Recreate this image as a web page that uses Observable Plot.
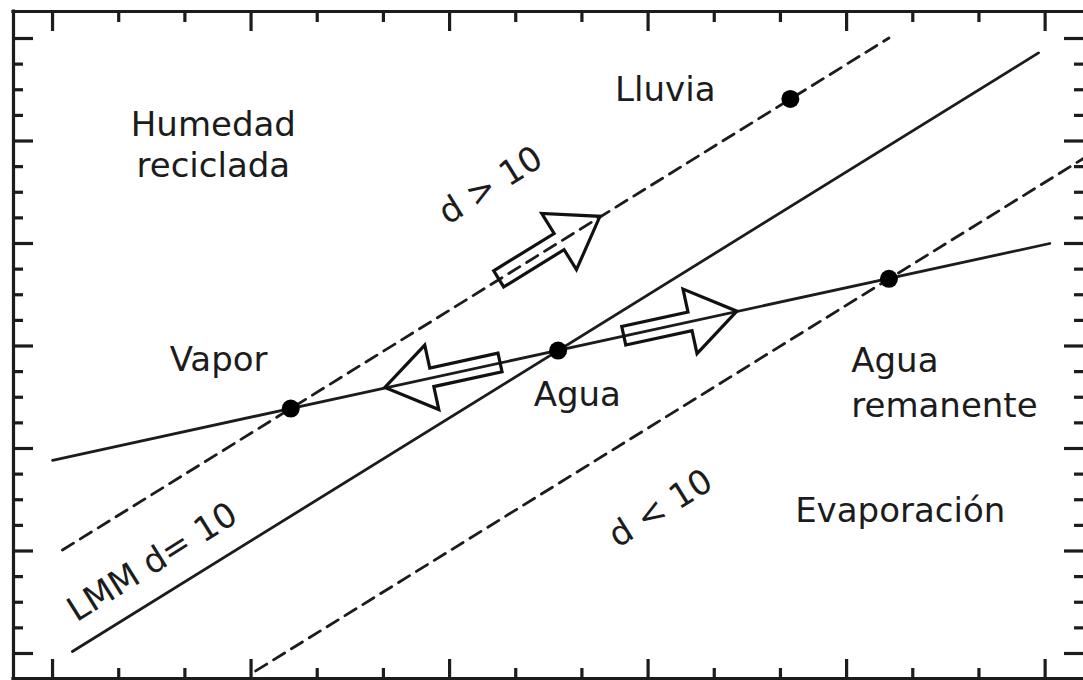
<!DOCTYPE html>
<html>
<head>
<meta charset="utf-8">
<script src="https://cdn.jsdelivr.net/npm/d3@7"></script>
<script src="https://cdn.jsdelivr.net/npm/@observablehq/plot@0.6"></script>
<style>
  html, body { margin: 0; padding: 0; background: #fff; overflow: hidden; }
  #chart svg { display: block; }
</style>
</head>
<body>
<div id="chart"></div>
<script>
// δ18O (x) vs δ2H (y) schematic: meteoric water line, deuterium-excess lines and evaporation line

// Axis extent and tick positions (no tick labels are drawn)
const xDomain = [-24.59, -8.42];
const yDomain = [-184.88, -54.73];
const xMajorTicks = [-24, -21, -18, -15, -12, -9];
const xMinorTicks = [-23, -22, -20, -19, -17, -16, -14, -13, -11, -10];
const yMajorTicks = [-180, -160, -140, -120, -100, -80, -60];
const yMinorTicks = [-175, -170, -165, -155, -150, -145, -135, -130, -125,
                     -115, -110, -105, -95, -90, -85, -75, -70, -65];

// Reference lines (end points in δ18O, δ2H)
const lmmLine = [{x: -23.7, y: -179.6}, {x: -9.1, y: -62.8}];      // d = 10
const highDLine = [{x: -23.85, y: -159.8}, {x: -11.36, y: -59.9}]; // d > 10
const lowDLine = [{x: -20.93, y: -183.4}, {x: -8.42, y: -83.4}];   // d < 10
const evapLine = [{x: -24.0, y: -142.3}, {x: -8.93, y: -100.0}];

// Water samples
const pointNames = ["Vapor", "Agua", "Agua remanente", "Lluvia"];
const pointX = [-20.40, -16.36, -11.36, -12.85];
const pointY = [-132.2, -120.9, -106.9, -71.8];

// Process arrows: tail and tip
const arrowTailX = [-17.25, -17.23, -15.36];
const arrowTailY = [-107.0, -123.3, -118.1];
const arrowTipX = [-15.72, -18.97, -13.65];
const arrowTipY = [-94.8, -128.2, -113.3];

// Labels
const labelText = ["Humedad\nreciclada", "Lluvia", "Vapor", "Agua", "Evaporación"];
const labelX = [-21.57, -14.74, -21.49, -16.07, -11.19];
const labelY = [-80.5, -69.6, -122.4, -129.1, -151.7];

const sideLabelText = ["Agua\nremanente"];
const sideLabelX = [-11.93];
const sideLabelY = [-126.7];

const slopeLabelText = ["d > 10", "d < 10", "LMM d= 10"];
const slopeLabelX = [-17.38, -14.81, -22.49];
const slopeLabelY = [-88.7, -151.7, -162.2];

const points = pointNames.map((name, i) => ({name, x: pointX[i], y: pointY[i]}));
const arrows = arrowTailX.map((_, i) => ({x1: arrowTailX[i], y1: arrowTailY[i], x2: arrowTipX[i], y2: arrowTipY[i]}));
const labels = labelText.map((t, i) => ({t, x: labelX[i], y: labelY[i]}));
const sideLabels = sideLabelText.map((t, i) => ({t, x: sideLabelX[i], y: sideLabelY[i]}));
const slopeLabels = slopeLabelText.map((t, i) => ({t, x: slopeLabelX[i], y: slopeLabelY[i]}));

const ink = "#1c1c1c";
const font = "DejaVu Sans, Verdana, sans-serif";

// Hollow block arrow drawn in screen space from data-space tail and tip
function blockArrows(index, scales) {
  const g = d3.create("svg:g");
  const shaft = 9.5, headHalf = 33, headLen = 48;
  for (const a of arrows) {
    const x0 = scales.x(a.x1), y0 = scales.y(a.y1);
    const x1 = scales.x(a.x2), y1 = scales.y(a.y2);
    const L = Math.hypot(x1 - x0, y1 - y0);
    const ux = (x1 - x0) / L, uy = (y1 - y0) / L;
    const nx = -uy, ny = ux;
    const bx = x1 - headLen * ux, by = y1 - headLen * uy;
    const pts = [
      [x0 + shaft * nx, y0 + shaft * ny],
      [bx + shaft * nx, by + shaft * ny],
      [bx + headHalf * nx, by + headHalf * ny],
      [x1, y1],
      [bx - headHalf * nx, by - headHalf * ny],
      [bx - shaft * nx, by - shaft * ny],
      [x0 - shaft * nx, y0 - shaft * ny]
    ];
    g.append("path")
      .attr("d", "M" + pts.map(p => p.join(",")).join("L") + "Z")
      .attr("fill", "none")
      .attr("stroke", "#111")
      .attr("stroke-width", 3.2)
      .attr("stroke-linejoin", "miter");
  }
  return g.node();
}

const tickStyle = {tickFormat: () => "", label: null, stroke: ink, strokeWidth: 3.2};

const chart = Plot.plot({
  width: 1083,
  height: 680,
  marginLeft: 13,
  marginRight: 0,
  marginTop: 11,
  marginBottom: 2,
  x: {domain: xDomain},
  y: {domain: yDomain},
  style: {fontFamily: font, background: "white", color: ink},
  marks: [
    // inward ticks on all four sides
    Plot.axisX(xMajorTicks, {anchor: "bottom", tickSize: -19, ...tickStyle}),
    Plot.axisX(xMinorTicks, {anchor: "bottom", tickSize: -10, ...tickStyle}),
    Plot.axisX(xMajorTicks, {anchor: "top", tickSize: -19, ...tickStyle}),
    Plot.axisX(xMinorTicks, {anchor: "top", tickSize: -10, ...tickStyle}),
    Plot.axisY(yMajorTicks, {anchor: "left", tickSize: -20, ...tickStyle}),
    Plot.axisY(yMinorTicks, {anchor: "left", tickSize: -10, ...tickStyle}),
    Plot.axisY(yMajorTicks, {anchor: "right", tickSize: -20, ...tickStyle}),
    Plot.axisY(yMinorTicks, {anchor: "right", tickSize: -10, ...tickStyle}),
    // frame: left, top and bottom edges
    Plot.ruleX([xDomain[0]], {stroke: ink, strokeWidth: 3.2, insetTop: -1.6, insetBottom: -1.6}),
    Plot.ruleY([yDomain[0], yDomain[1]], {stroke: ink, strokeWidth: 3.2, insetLeft: -1.6}),
    // lines
    Plot.line(lmmLine, {x: "x", y: "y", stroke: ink, strokeWidth: 2.8}),
    Plot.line(evapLine, {x: "x", y: "y", stroke: ink, strokeWidth: 2.8}),
    Plot.line(highDLine, {x: "x", y: "y", stroke: ink, strokeWidth: 2.8, strokeDasharray: "13,8"}),
    Plot.line(lowDLine, {x: "x", y: "y", stroke: ink, strokeWidth: 2.8, strokeDasharray: "13,8"}),
    // arrows
    blockArrows,
    // samples
    Plot.dot(points, {x: "x", y: "y", r: 9, fill: "#000", stroke: null}),
    // labels
    Plot.text(labels, {x: "x", y: "y", text: "t", fontSize: 34, lineHeight: 1.2, fill: ink}),
    Plot.text(sideLabels, {x: "x", y: "y", text: "t", fontSize: 34, lineHeight: 1.3, textAnchor: "start", fill: ink}),
    Plot.text(slopeLabels, {x: "x", y: "y", text: "t", fontSize: 34, rotate: -32, fill: ink})
  ]
});

document.getElementById("chart").append(chart);
</script>
</body>
</html>
